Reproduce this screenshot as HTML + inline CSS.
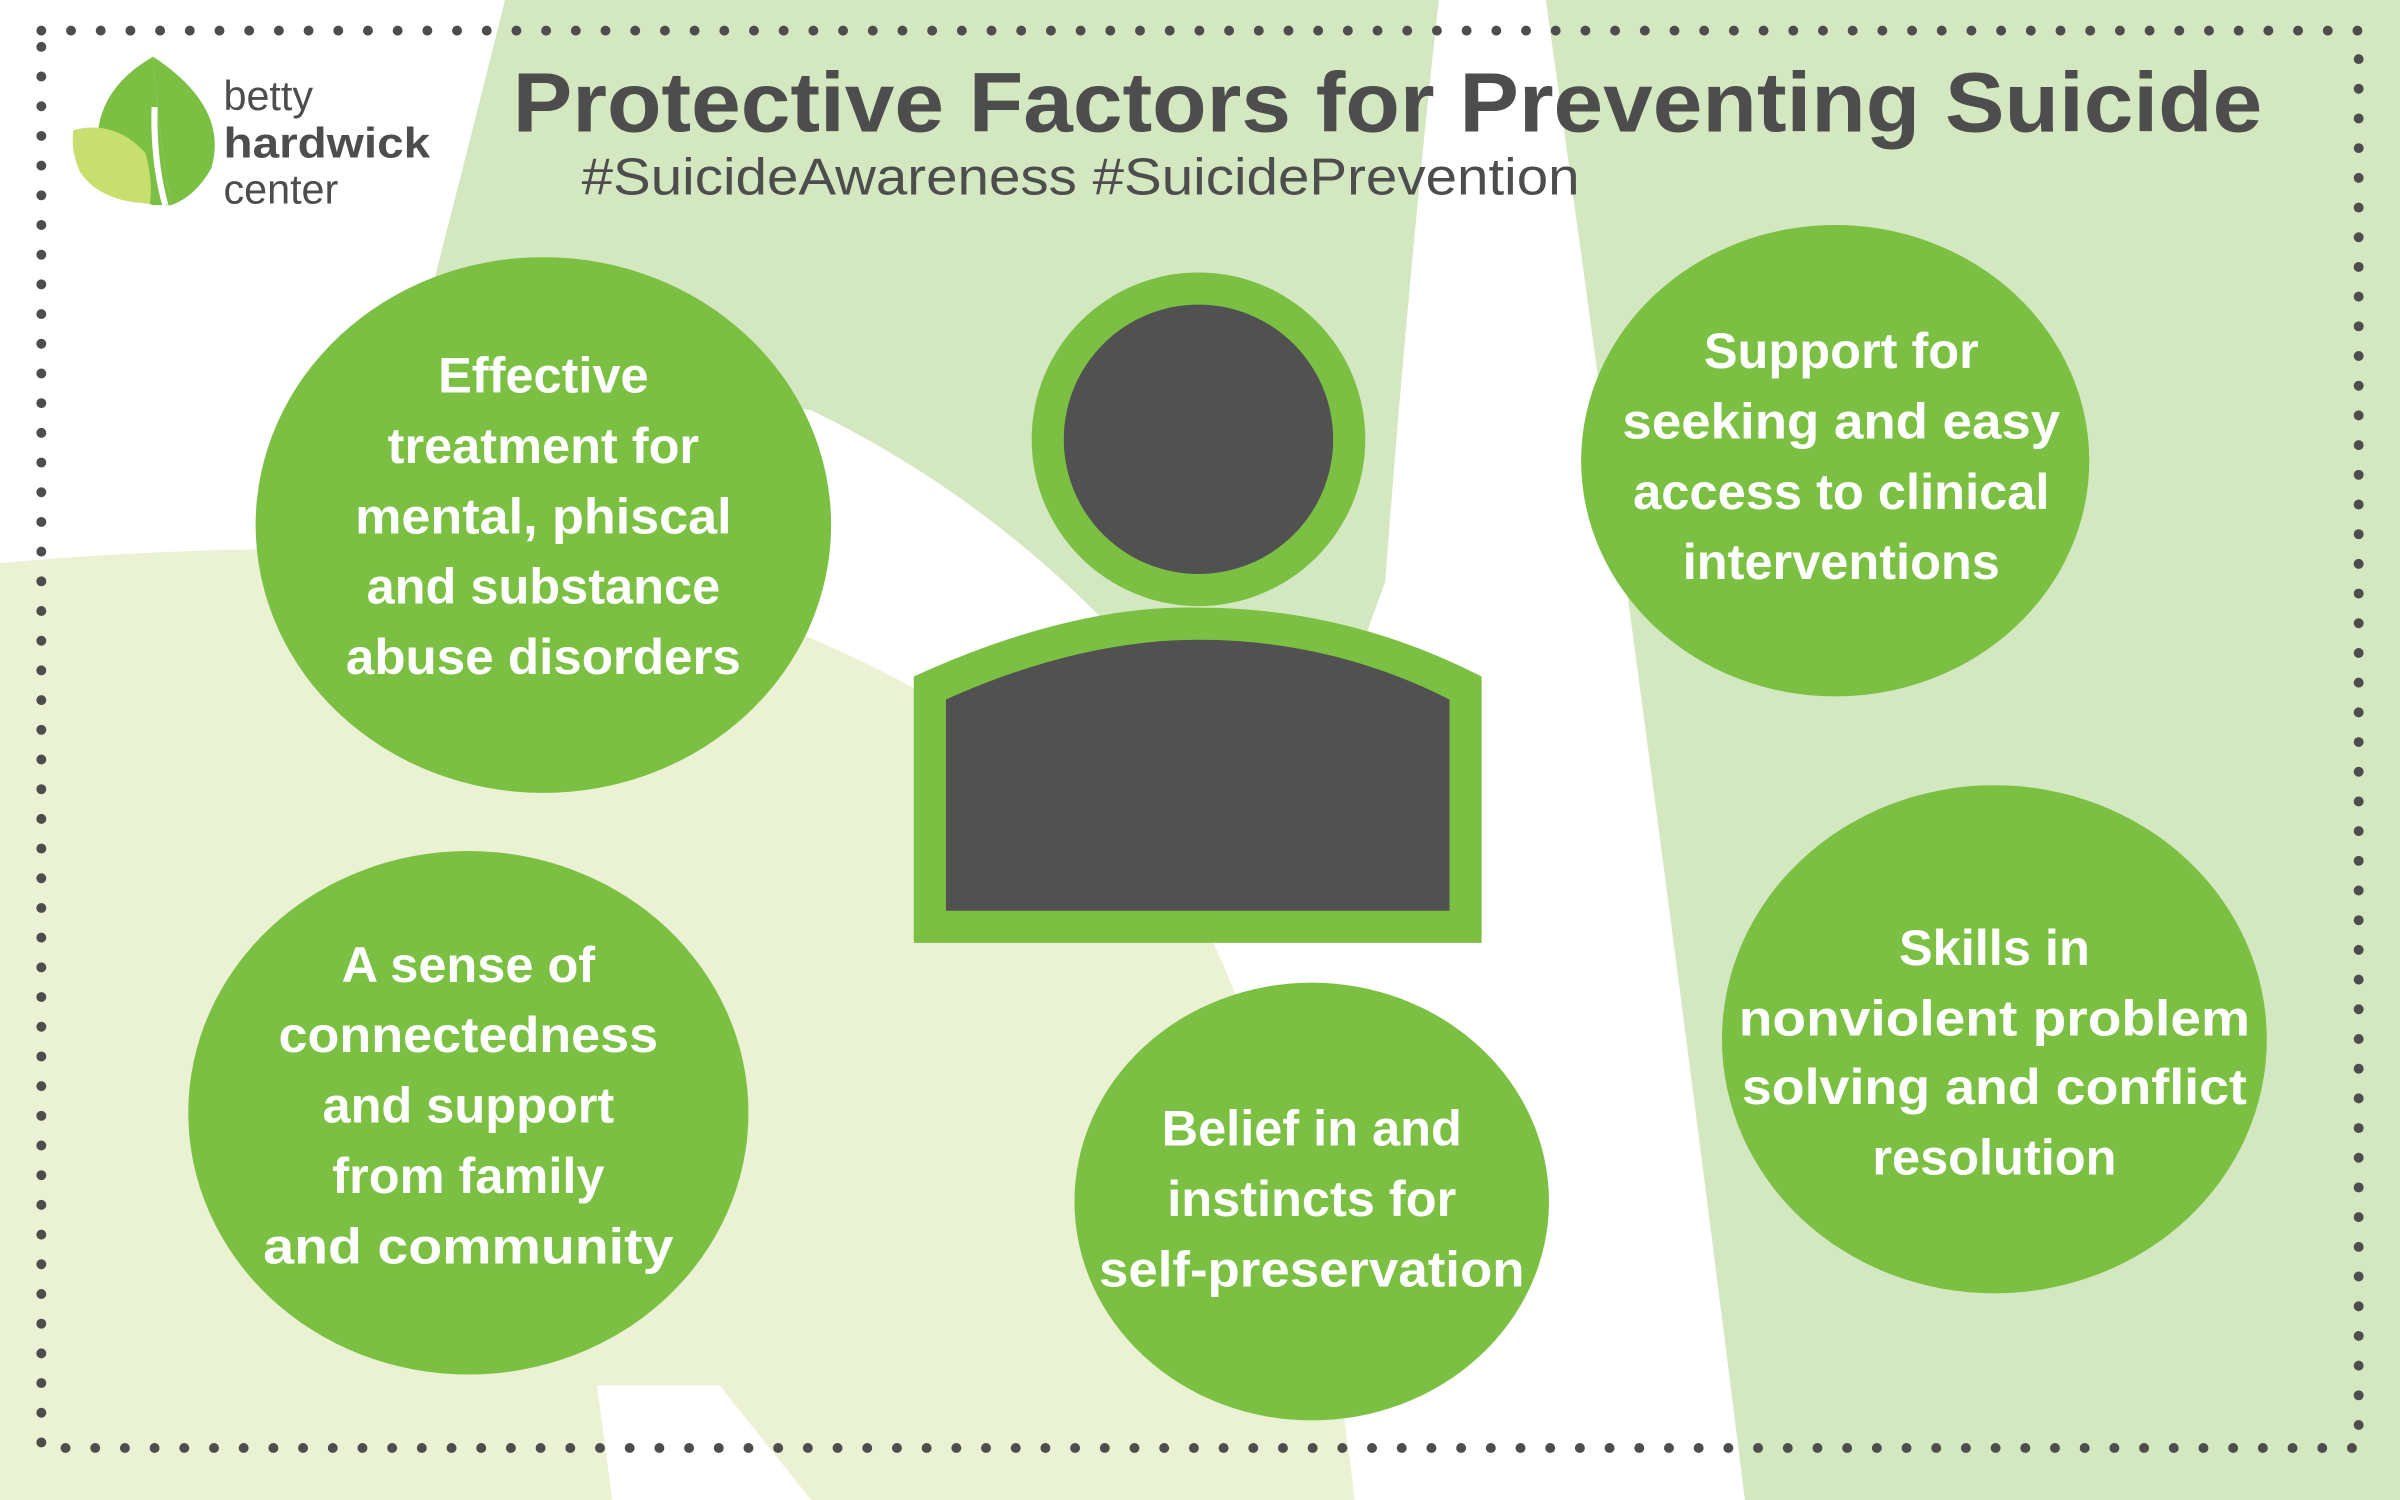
<!DOCTYPE html>
<html><head><meta charset="utf-8"><style>
html,body{margin:0;padding:0;width:2400px;height:1500px;overflow:hidden;background:#fff}
svg{display:block}
text{font-family:"Liberation Sans",sans-serif}
.c{fill:#fff;font-weight:bold;font-size:33px;text-anchor:middle;dominant-baseline:central}
</style></head><body>
<svg width="2400" height="1500" viewBox="0 0 1568 980" preserveAspectRatio="none">
<rect width="1568" height="980" fill="#fff"/>
<!-- pale left region -->
<path d="M0,368 Q250,345 420,380 Q650,440 790,610 Q860,760 885,980 L530,980 L470,905 L390,905 L400,980 L0,980 Z" fill="#eaf2d3"/>
<!-- medium green top middle -->
<path d="M330,0 L940,0 Q920,180 905,380 L840,560 Q720,360 530,268 L380,245 Q300,260 260,275 Q300,120 330,0 Z" fill="#d3e8c0"/>
<!-- right region -->
<path d="M1010,0 L1568,0 L1568,980 L1140,980 Q1080,500 1010,0 Z" fill="#d3e8c0"/>
<!-- dotted border -->
<rect x="27" y="20" width="1514" height="926" fill="none" stroke="#4d4d4d" stroke-width="6.5" stroke-linecap="round" stroke-dasharray="0 19.4"/>
<!-- logo -->
<path d="M100,37 Q150,70 138,110 Q128,128 112,134 Q105,100 100,37 Z" fill="#7bc043"/>
<path d="M100,37 Q60,60 64,100 Q70,125 100,134 L112,134 Q105,100 100,37 Z" fill="#7bc043"/>
<path d="M48,85 Q75,78 95,100 Q100,118 98,133 Q65,132 52,112 Q46,98 48,85 Z" fill="#c8de6e"/>
<path d="M101,70 Q100,105 108,134" stroke="#fff" stroke-width="4" fill="none"/>
<text x="146" y="72" font-size="27" fill="#4d4d4d">betty</text>
<text x="146" y="103" font-size="28" font-weight="bold" fill="#4d4d4d" textLength="135" lengthAdjust="spacingAndGlyphs">hardwick</text>
<text x="146" y="133" font-size="27" fill="#4d4d4d">center</text>
<text x="335" y="86" font-size="55" font-weight="bold" fill="#4d4d4d" textLength="1143" lengthAdjust="spacingAndGlyphs">Protective Factors for Preventing Suicide</text>
<text x="380" y="127" font-size="34" fill="#4d4d4d" textLength="652" lengthAdjust="spacingAndGlyphs">#SuicideAwareness #SuicidePrevention</text>
<!-- person -->
<ellipse cx="783" cy="287" rx="109" ry="109" fill="#7bc043"/>
<ellipse cx="783" cy="287" rx="88" ry="88" fill="#515151"/>
<path d="M597,442 Q700,395 783,397 Q880,397 968,442 L968,616 L597,616 Z" fill="#7bc043"/>
<path d="M618,457 Q705,418 783,418 Q870,418 947,457 L947,595 L618,595 Z" fill="#515151"/>
<!-- circles -->
<ellipse cx="355" cy="343" rx="188" ry="175" fill="#7bc043"/>
<ellipse cx="1199" cy="301" rx="166" ry="154" fill="#7bc043"/>
<ellipse cx="1303" cy="679" rx="178" ry="166" fill="#7bc043"/>
<ellipse cx="306" cy="727" rx="183" ry="171" fill="#7bc043"/>
<ellipse cx="857" cy="785" rx="155" ry="143" fill="#7bc043"/>
<text class="c" x="355" y="245">Effective</text>
<text class="c" x="355" y="291">treatment for</text>
<text class="c" x="355" y="337" textLength="246" lengthAdjust="spacingAndGlyphs">mental, phiscal</text>
<text class="c" x="355" y="383">and substance</text>
<text class="c" x="355" y="429" textLength="258" lengthAdjust="spacingAndGlyphs">abuse disorders</text>
<text class="c" x="1203" y="229">Support for</text>
<text class="c" x="1203" y="275" textLength="286" lengthAdjust="spacingAndGlyphs">seeking and easy</text>
<text class="c" x="1203" y="321" textLength="272" lengthAdjust="spacingAndGlyphs">access to clinical</text>
<text class="c" x="1203" y="367">interventions</text>
<text class="c" x="1303" y="619">Skills in</text>
<text class="c" x="1303" y="665" textLength="334" lengthAdjust="spacingAndGlyphs">nonviolent problem</text>
<text class="c" x="1303" y="710" textLength="330" lengthAdjust="spacingAndGlyphs">solving and conflict</text>
<text class="c" x="1303" y="756">resolution</text>
<text class="c" x="306" y="630">A sense of</text>
<text class="c" x="306" y="676" textLength="248" lengthAdjust="spacingAndGlyphs">connectedness</text>
<text class="c" x="306" y="722">and support</text>
<text class="c" x="306" y="768">from family</text>
<text class="c" x="306" y="814" textLength="268" lengthAdjust="spacingAndGlyphs">and community</text>
<text class="c" x="857" y="737">Belief in and</text>
<text class="c" x="857" y="783">instincts for</text>
<text class="c" x="857" y="829" textLength="278" lengthAdjust="spacingAndGlyphs">self-preservation</text>
</svg>
</body></html>
